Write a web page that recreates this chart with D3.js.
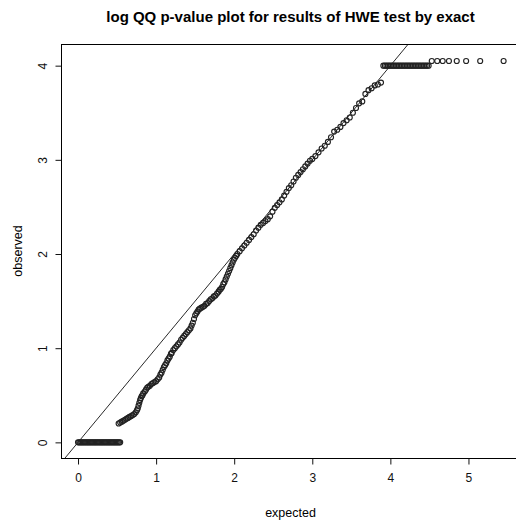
<!DOCTYPE html>
<html>
<head>
<meta charset="utf-8">
<script src="https://cdn.jsdelivr.net/npm/d3@7"></script>
<style>
  html, body { margin: 0; padding: 0; background: #fff; }
  svg { display: block; font-family: "Liberation Sans", Arial, sans-serif; }
</style>
</head>
<body>
<svg id="qq"></svg>
<script>
const width = 516
const height = 521

// values as [expected, observed] (-log10 p)
// observed p = 1 rows
const zeroRow = [
  [0.000, 0], [0.015, 0], [0.030, 0], [0.045, 0], [0.060, 0], [0.075, 0], [0.090, 0], [0.105, 0],
  [0.120, 0], [0.135, 0], [0.150, 0], [0.165, 0], [0.180, 0], [0.195, 0], [0.210, 0], [0.225, 0],
  [0.240, 0], [0.255, 0], [0.270, 0], [0.285, 0], [0.300, 0], [0.315, 0], [0.330, 0], [0.345, 0],
  [0.360, 0], [0.375, 0], [0.390, 0], [0.405, 0], [0.420, 0], [0.435, 0], [0.450, 0], [0.465, 0],
  [0.480, 0], [0.495, 0], [0.510, 0], [0.525, 0], [0.540, 0]
]
// dense lower part of the curve
const lowerCurve = [
  [0.52, 0.20], [0.54, 0.21], [0.56, 0.22], [0.58, 0.23], [0.60, 0.24], [0.62, 0.25], [0.64, 0.26],
  [0.66, 0.27], [0.68, 0.28], [0.70, 0.29], [0.72, 0.30], [0.74, 0.32],
  [0.755, 0.34], [0.765, 0.36], [0.775, 0.39], [0.785, 0.42], [0.795, 0.45], [0.805, 0.47],
  [0.815, 0.49], [0.825, 0.50], [0.835, 0.52],
  [0.855, 0.54], [0.87, 0.56], [0.885, 0.58], [0.90, 0.59], [0.92, 0.60], [0.94, 0.62], [0.96, 0.63],
  [0.98, 0.64], [1.00, 0.65], [1.02, 0.67], [1.04, 0.69],
  [1.055, 0.72], [1.07, 0.74], [1.085, 0.77], [1.10, 0.80], [1.115, 0.82], [1.13, 0.84],
  [1.145, 0.87], [1.16, 0.89], [1.175, 0.91], [1.19, 0.94], [1.20, 0.95],
  [1.22, 0.98], [1.24, 1.00], [1.26, 1.02], [1.28, 1.04], [1.30, 1.06], [1.32, 1.09], [1.34, 1.11],
  [1.36, 1.13], [1.38, 1.15], [1.40, 1.17], [1.42, 1.19], [1.44, 1.21],
  [1.455, 1.24], [1.47, 1.27], [1.485, 1.31], [1.50, 1.35], [1.515, 1.37], [1.53, 1.39],
  [1.545, 1.41], [1.56, 1.42],
  [1.58, 1.43], [1.60, 1.44], [1.62, 1.45], [1.64, 1.47], [1.66, 1.48], [1.68, 1.50], [1.70, 1.52],
  [1.72, 1.53], [1.74, 1.55], [1.76, 1.56], [1.78, 1.58], [1.80, 1.60],
  [1.815, 1.62], [1.83, 1.63], [1.845, 1.65], [1.86, 1.68], [1.875, 1.70], [1.89, 1.73],
  [1.905, 1.76], [1.92, 1.79], [1.935, 1.82], [1.95, 1.85], [1.965, 1.88], [1.98, 1.91],
  [1.995, 1.94], [2.01, 1.96], [2.025, 1.98], [2.04, 2.00]
]
// sparser upper part, close to the diagonal
const upperCurve = [
  [2.07, 2.03], [2.10, 2.06], [2.13, 2.09], [2.16, 2.12], [2.19, 2.15], [2.22, 2.18], [2.25, 2.21],
  [2.28, 2.25], [2.31, 2.28], [2.34, 2.31], [2.37, 2.33], [2.40, 2.35], [2.43, 2.37], [2.46, 2.40],
  [2.49, 2.45], [2.52, 2.49], [2.55, 2.52], [2.58, 2.55], [2.61, 2.58], [2.64, 2.62], [2.67, 2.66],
  [2.70, 2.70], [2.73, 2.73], [2.76, 2.77], [2.79, 2.81], [2.82, 2.84], [2.85, 2.87], [2.88, 2.90],
  [2.91, 2.93], [2.94, 2.96], [2.97, 2.99], [3.00, 3.01], [3.04, 3.04], [3.08, 3.08], [3.12, 3.12],
  [3.16, 3.15], [3.20, 3.19], [3.24, 3.24], [3.28, 3.30], [3.32, 3.32], [3.36, 3.35], [3.40, 3.39],
  [3.44, 3.42], [3.48, 3.45], [3.52, 3.50], [3.56, 3.55], [3.60, 3.60], [3.64, 3.62], [3.68, 3.70],
  [3.72, 3.74], [3.76, 3.76], [3.80, 3.79], [3.84, 3.80], [3.88, 3.82]
]
// observed p = 1e-4 plateau and the few smallest p-values
const topRow = [
  [3.91, 4.00], [3.93, 4.00], [3.95, 4.00], [3.97, 4.00], [3.99, 4.00], [4.01, 4.00], [4.03, 4.00],
  [4.05, 4.00], [4.07, 4.00], [4.09, 4.00], [4.11, 4.00], [4.13, 4.00], [4.15, 4.00], [4.17, 4.00],
  [4.19, 4.00], [4.21, 4.00], [4.23, 4.00], [4.25, 4.00], [4.27, 4.00], [4.29, 4.00], [4.31, 4.00],
  [4.33, 4.00], [4.35, 4.00], [4.37, 4.00], [4.39, 4.00], [4.41, 4.00], [4.43, 4.00], [4.45, 4.00],
  [4.47, 4.00], [4.49, 4.00]
]
const tailPoints = [
  [4.53, 4.05], [4.60, 4.05], [4.67, 4.05], [4.75, 4.05], [4.85, 4.05], [4.97, 4.05], [5.15, 4.05], [5.45, 4.05]
]
const xTicks = [0, 1, 2, 3, 4, 5]
const yTicks = [0, 1, 2, 3, 4]

const mLeft = 61, mRight = 520, mTop = 44, mBottom = 458

const x = d3.scaleLinear().domain([-0.218, 5.66]).range([mLeft, mRight])
const y = d3.scaleLinear().domain([-0.166, 4.23]).range([mBottom, mTop])

const svg = d3.select("#qq")
              .attr("width", width)
              .attr("height", height)
              .attr("viewBox", [0, 0, width, height])

svg.append("clipPath").attr("id", "clip")
   .append("rect")
     .attr("x", mLeft).attr("y", mTop)
     .attr("width", mRight - mLeft).attr("height", mBottom - mTop)

// y = x reference line
svg.append("line")
   .attr("clip-path", "url(#clip)")
   .attr("x1", x(-0.2)).attr("y1", y(-0.2))
   .attr("x2", x(4.3)).attr("y2", y(4.3))
   .attr("stroke", "#111")
   .attr("stroke-width", 0.9)

const pts = [].concat(zeroRow, lowerCurve, upperCurve, topRow, tailPoints)

svg.append("g")
   .selectAll("circle")
   .data(pts)
   .join("circle")
     .attr("cx", d => x(d[0]))
     .attr("cy", d => y(d[1]))
     .attr("r", 2.5)
     .attr("fill", "none")
     .attr("stroke", "#222")
     .attr("stroke-width", 1.15)

// plot box
svg.append("rect")
   .attr("x", mLeft + 0.5).attr("y", mTop + 0.5)
   .attr("width", mRight - mLeft).attr("height", mBottom - mTop)
   .attr("fill", "none")
   .attr("stroke", "#000")
   .attr("stroke-width", 1)

const xAxis = svg.append("g")
   .attr("transform", `translate(0,${mBottom + 0.5})`)
   .call(d3.axisBottom(x).tickValues(xTicks).tickFormat(d3.format("d")).tickSize(6).tickPadding(9))
xAxis.select(".domain").remove()

const yAxis = svg.append("g")
   .attr("transform", `translate(${mLeft + 0.5},0)`)
   .call(d3.axisLeft(y).tickValues(yTicks).tickFormat(d3.format("d")).tickSize(6).tickPadding(0))
yAxis.select(".domain").remove()
yAxis.selectAll("text")
     .attr("x", null).attr("dy", null)
     .attr("text-anchor", "middle")
     .attr("transform", "translate(-15,0) rotate(-90)")

svg.selectAll(".tick text")
   .attr("font-size", 12)
   .attr("font-family", "Liberation Sans, Arial, sans-serif")
   .attr("fill", "#111")
svg.selectAll(".tick line").attr("stroke", "#111")

svg.append("text")
   .attr("x", (mLeft + mRight) / 2)
   .attr("y", 22)
   .attr("text-anchor", "middle")
   .attr("font-size", 15)
   .attr("font-weight", "bold")
   .text("log QQ p-value plot for results of HWE test by exact")

svg.append("text")
   .attr("x", (mLeft + mRight) / 2)
   .attr("y", 517)
   .attr("text-anchor", "middle")
   .attr("font-size", 12.5)
   .text("expected")

svg.append("text")
   .attr("transform", `translate(22,${(mTop + mBottom) / 2}) rotate(-90)`)
   .attr("text-anchor", "middle")
   .attr("font-size", 12.5)
   .text("observed")
</script>
</body>
</html>
